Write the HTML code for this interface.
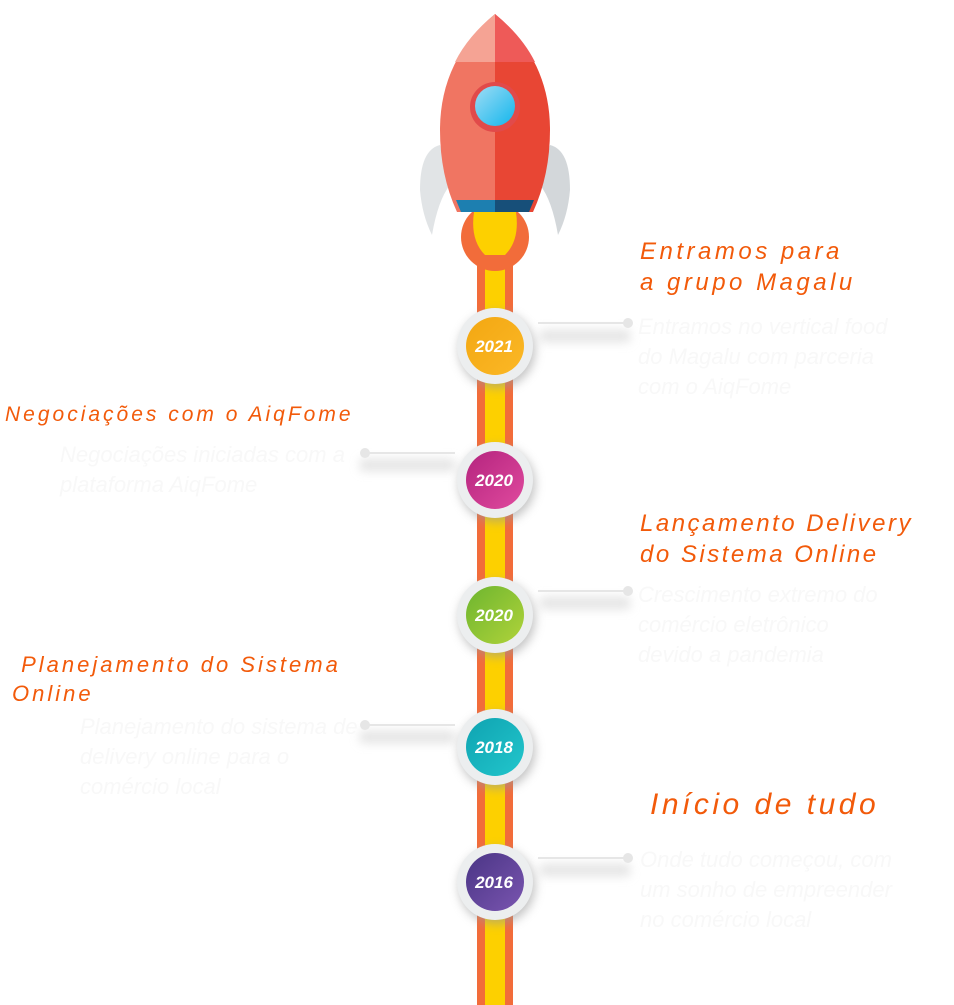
<!DOCTYPE html>
<html><head><meta charset="utf-8"><style>
body{margin:0;width:954px;height:1005px;background:#fff;position:relative;overflow:hidden;font-family:"Liberation Sans",sans-serif}
.t{position:absolute;color:#f25a0a;font-style:italic;white-space:nowrap;letter-spacing:3px}
.w{position:absolute;color:#f8f8f8;font-style:italic;font-size:22px;line-height:30px;white-space:nowrap}
</style></head><body>
<svg width="954" height="1005" style="position:absolute;left:0;top:0">
<defs>
<filter id="sh" x="-50%" y="-50%" width="200%" height="200%"><feGaussianBlur stdDeviation="5"/></filter>
<linearGradient id="g1" x1="0" y1="0" x2="1" y2="1"><stop offset="0" stop-color="#f3a712"/><stop offset="1" stop-color="#fbb826"/></linearGradient>
<linearGradient id="g2" x1="0" y1="0" x2="1" y2="1"><stop offset="0" stop-color="#b4247e"/><stop offset="1" stop-color="#e04a9e"/></linearGradient>
<linearGradient id="g3" x1="0" y1="0" x2="1" y2="1"><stop offset="0" stop-color="#6db52f"/><stop offset="1" stop-color="#b0d33a"/></linearGradient>
<linearGradient id="g4" x1="0" y1="0" x2="1" y2="1"><stop offset="0" stop-color="#0fa3b1"/><stop offset="1" stop-color="#22c6cc"/></linearGradient>
<linearGradient id="g5" x1="0" y1="0" x2="1" y2="1"><stop offset="0" stop-color="#4a3585"/><stop offset="1" stop-color="#7a55b0"/></linearGradient>
<linearGradient id="pw" x1="0" y1="0" x2="1" y2="1"><stop offset="0" stop-color="#9fdcf5"/><stop offset="1" stop-color="#12b6ec"/></linearGradient>
</defs>
<rect x="477" y="240" width="36" height="770" fill="#f26c3a"/>
<rect x="485" y="220" width="20" height="790" fill="#fdd000"/>
<circle cx="495" cy="237" r="34" fill="#f26c3a"/>
<path d="M474 212 L516 212 Q520 240 505 255 L485 255 Q470 240 474 212Z" fill="#fdd000"/>
<path d="M440 145 Q420 150 420 190 Q422 215 432 235 Q438 200 450 185Z" fill="#e1e4e6"/>
<path d="M550 145 Q570 150 570 190 Q568 215 558 235 Q552 200 540 185Z" fill="#d3d7da"/>
<path d="M495 14 Q440 60 440 130 Q440 175 457 212 L495 212Z" fill="#f07562"/>
<path d="M495 14 Q550 60 550 130 Q550 175 533 212 L495 212Z" fill="#e84634"/>
<path d="M495 14 Q468 36 455 62 L495 62Z" fill="#f5a394"/>
<path d="M495 14 Q522 36 535 62 L495 62Z" fill="#ee5a58"/>
<path d="M456 200 L495 200 L495 212 L461 212Z" fill="#1d7fb0"/>
<path d="M495 200 L534 200 L529 212 L495 212Z" fill="#174f79"/>
<circle cx="495" cy="107" r="25" fill="#e14a4a"/>
<circle cx="495" cy="106" r="20" fill="url(#pw)"/>
<g fill="#ddd" filter="url(#sh)" opacity=".8">
<rect x="540" y="330" width="90" height="12"/><rect x="540" y="597" width="90" height="12"/><rect x="540" y="864" width="90" height="12"/>
<rect x="360" y="459" width="95" height="12"/><rect x="360" y="731" width="95" height="12"/>
</g>
<g stroke="#e6e6e6" stroke-width="2" fill="#e6e6e6">
<line x1="538" y1="323" x2="628" y2="323"/><circle cx="628" cy="323" r="4"/>
<line x1="538" y1="591" x2="628" y2="591"/><circle cx="628" cy="591" r="4"/>
<line x1="538" y1="858" x2="628" y2="858"/><circle cx="628" cy="858" r="4"/>
<line x1="365" y1="453" x2="455" y2="453"/><circle cx="365" cy="453" r="4"/>
<line x1="365" y1="725" x2="455" y2="725"/><circle cx="365" cy="725" r="4"/>
</g>
<g font-family="Liberation Sans" font-style="italic" font-weight="bold" font-size="17" fill="#fff" text-anchor="middle">
<circle cx="497" cy="350" r="38" fill="#999" filter="url(#sh)" opacity=".6"/><circle cx="495" cy="346" r="38" fill="#eceeef"/><circle cx="495" cy="346" r="29" fill="url(#g1)"/><text x="494" y="352">2021</text>
<circle cx="497" cy="484" r="38" fill="#999" filter="url(#sh)" opacity=".6"/><circle cx="495" cy="480" r="38" fill="#eceeef"/><circle cx="495" cy="480" r="29" fill="url(#g2)"/><text x="494" y="486">2020</text>
<circle cx="497" cy="619" r="38" fill="#999" filter="url(#sh)" opacity=".6"/><circle cx="495" cy="615" r="38" fill="#eceeef"/><circle cx="495" cy="615" r="29" fill="url(#g3)"/><text x="494" y="621">2020</text>
<circle cx="497" cy="751" r="38" fill="#999" filter="url(#sh)" opacity=".6"/><circle cx="495" cy="747" r="38" fill="#eceeef"/><circle cx="495" cy="747" r="29" fill="url(#g4)"/><text x="494" y="753">2018</text>
<circle cx="497" cy="886" r="38" fill="#999" filter="url(#sh)" opacity=".6"/><circle cx="495" cy="882" r="38" fill="#eceeef"/><circle cx="495" cy="882" r="29" fill="url(#g5)"/><text x="494" y="888">2016</text>
</g>
</svg>
<div class="t" style="left:640px;top:236px;font-size:24px;line-height:31px;letter-spacing:3.5px">Entramos para<br>a grupo Magalu</div>
<div class="w" style="left:638px;top:312px">Entramos no vertical food<br>do Magalu com parceria<br>com o AiqFome</div>
<div class="t" style="left:5px;top:403px;font-size:21px">Negociações com o AiqFome</div>
<div class="w" style="left:60px;top:440px">Negociações iniciadas com a<br>plataforma AiqFome</div>
<div class="t" style="left:640px;top:508px;font-size:24px;line-height:31px;letter-spacing:2.5px">Lançamento Delivery<br>do Sistema Online</div>
<div class="w" style="left:638px;top:580px">Crescimento extremo do<br>comércio eletrônico<br>devido a pandemia</div>
<div class="t" style="left:12px;top:650px;font-size:22px;line-height:29px">&nbsp;Planejamento do Sistema<br>Online</div>
<div class="w" style="left:80px;top:712px">Planejamento do sistema de<br>delivery online para o<br>comércio local</div>
<div class="t" style="left:650px;top:788px;font-size:30px;letter-spacing:3.5px">Início de tudo</div>
<div class="w" style="left:640px;top:845px">Onde tudo começou, com<br>um sonho de empreender<br>no comércio local</div>
</body></html>
